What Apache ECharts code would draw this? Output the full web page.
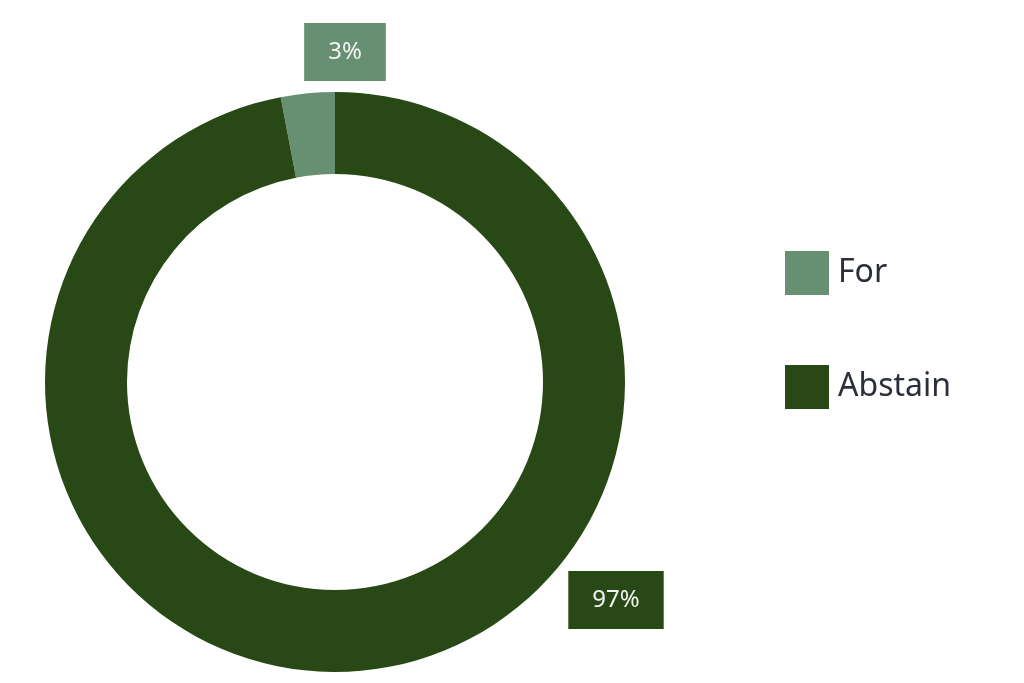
<!DOCTYPE html>
<html><head><meta charset="utf-8">
<script src="https://cdn.jsdelivr.net/npm/echarts@6/dist/echarts.min.js"></script>
<style>html,body{margin:0;padding:0;background:#fff}#c{width:1024px;height:683px}</style>
</head><body><div id="c"></div>
<script>
const categories = ['For', 'Abstain'];
const values = [3, 97];
const colors = ['#679073', '#284915'];
const labelPos = [[345, 52], [616, 600]];

const chart = echarts.init(document.getElementById('c'));
chart.setOption({
  animation: false,
  legend: {
    orient: 'vertical', left: 780, top: 246,
    itemWidth: 44, itemHeight: 44, itemGap: 70,
    icon: 'rect',
    textStyle: { fontFamily: 'Noto Sans', fontSize: 32, color: '#2b2f3a', padding: [0, 0, 0, 4] },
    data: categories
  },
  series: [{
    type: 'pie',
    center: [335, 382],
    radius: [208, 290],
    startAngle: 90,
    clockwise: false,
    data: categories.map((c, i) => ({ name: c, value: values[i], itemStyle: { color: colors[i] } })),
    label: {
      show: true, position: 'outside',
      formatter: '{c}%',
      fontFamily: 'Noto Sans', fontSize: 24, color: '#f4f4f4',
      backgroundColor: 'inherit', padding: [17, 24],
      borderWidth: 0
    },
    labelLine: { show: false },
    labelLayout: p => ({ x: labelPos[p.dataIndex][0], y: labelPos[p.dataIndex][1], align: 'center', verticalAlign: 'middle' }),
    emphasis: { disabled: true }
  }]
});
</script></body></html>
